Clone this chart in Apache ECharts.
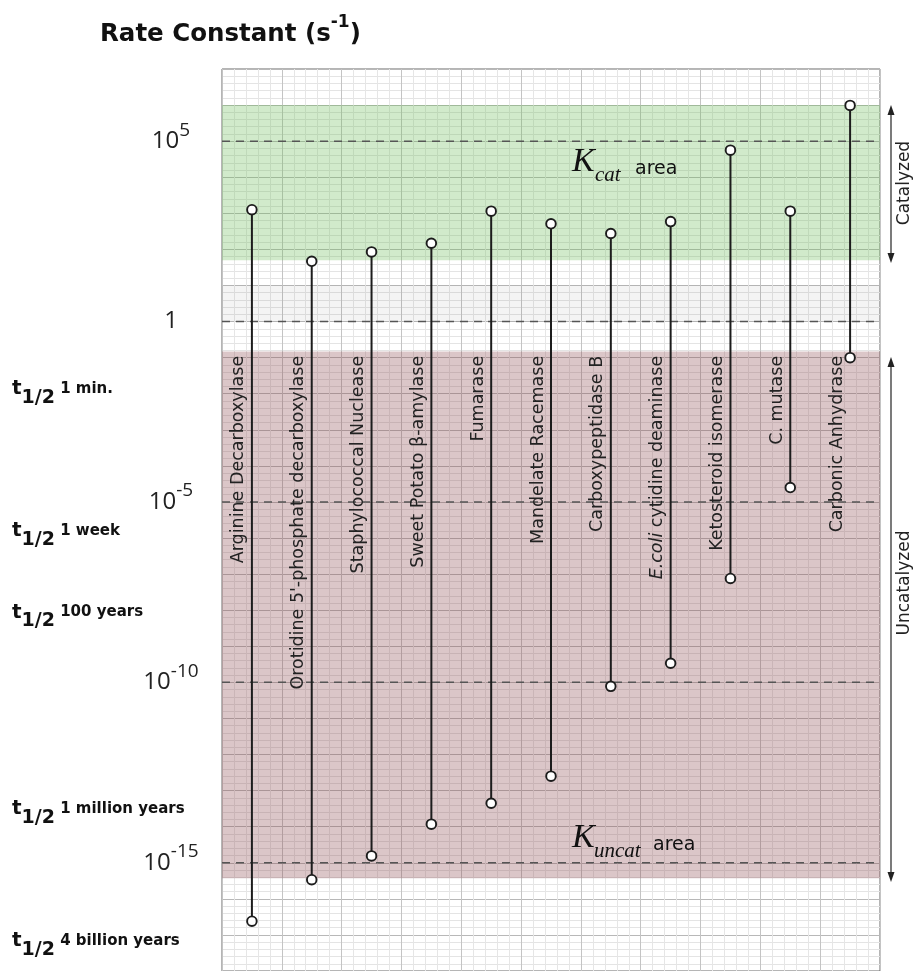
<!DOCTYPE html>
<html><head><meta charset="utf-8">
<script src="https://cdn.jsdelivr.net/npm/echarts@6/dist/echarts.min.js"></script>
<style>html,body{margin:0;padding:0;background:#fff}#c{width:913px;height:971px}</style>
</head><body><div id="c"></div>
<script>
// ---- data (log10 of rate constant, s^-1) ----
const enzymes = ['Arginine Decarboxylase', "Orotidine 5'-phosphate decarboxylase", 'Staphylococcal Nuclease',
  'Sweet Potato β-amylase', 'Fumarase', 'Mandelate Racemase', 'Carboxypeptidase B',
  'E.coli cytidine deaminase', 'Ketosteroid isomerase', 'C. mutase', 'Carbonic Anhydrase'];
const kcatLog   = [3.1, 1.67, 1.93, 2.17, 3.06, 2.71, 2.44, 2.77, 4.75, 3.06, 5.99];
const kuncatLog = [-16.62, -15.47, -14.81, -13.93, -13.35, -12.6, -10.11, -9.47, -7.12, -4.6, -1.0];
const labeledTicks = [5, 0, -5, -10, -15];
const halfLifeText = ['1 min.', '1 week', '100 years', '1 million years', '4 billion years'];
const halfLifeLog  = [-1.86, -5.80, -8.06, -13.50, -17.16];
const catalyzedBand   = [6, 1.7];
const neutralBand     = [1, 0];
const uncatalyzedBand = [-0.83, -15.43];

// ---- styling ----
const SANS = '"DejaVu Sans", Verdana, sans-serif';
const SERIF = '"Liberation Serif", "Times New Roman", serif';
const INK = '#1c1c1c';
const LABEL_TOP = -0.95;
const bandColors = ['rgba(105,188,88,0.31)', 'rgba(0,0,0,0.045)', 'rgba(138,72,78,0.31)'];

const chart = echarts.init(document.getElementById('c'), null, {renderer: 'canvas'});

function bandItem(params, api) {
  const cs = params.coordSys;
  const y1 = api.coord([0, api.value(1)])[1];
  const y2 = api.coord([0, api.value(2)])[1];
  return {type: 'rect', shape: {x: cs.x, y: y1, width: cs.width, height: y2 - y1},
    style: {fill: bandColors[params.dataIndex]}};
}
function dashItem(params, api) {
  const cs = params.coordSys;
  const y = api.coord([0, api.value(1)])[1];
  return {type: 'line', shape: {x1: cs.x, y1: y, x2: cs.x + cs.width, y2: y},
    style: {stroke: '#555', lineWidth: 1.5, lineDash: [8, 6]}};
}
function halfItem(params, api) {
  const y = api.coord([0, api.value(1)])[1];
  return {type: 'text', x: 12, y: y,
    style: {text: '{t|t}{s|1/2}{r| ' + halfLifeText[params.dataIndex] + '}',
      align: 'left', verticalAlign: 'middle', fill: '#111',
      fontFamily: SANS, fontWeight: 'bold', fontSize: 18,
      rich: {
        t: {fontFamily: SANS, fontWeight: 'bold', fontSize: 20, lineHeight: 20, fill: '#111'},
        s: {fontFamily: SANS, fontWeight: 'bold', fontSize: 19, lineHeight: 19, padding: [18, 0, 0, 0], fill: '#111'},
        r: {fontFamily: SANS, fontWeight: 'bold', fontSize: 15, lineHeight: 15, fill: '#111'}
      }}};
}
function stemItem(params, api) {
  const i = api.value(0);
  const top = api.coord([i, api.value(1)]);
  const bot = api.coord([i, api.value(2)]);
  const ly = api.coord([i, LABEL_TOP])[1];
  const name = enzymes[params.dataIndex];
  const text = name.indexOf('E.coli') === 0 ? '{i|E.coli}' + name.slice(6) : name;
  const circ = (p) => ({type: 'circle', shape: {cx: p[0], cy: p[1], r: 4.8},
    style: {fill: '#fff', stroke: INK, lineWidth: 1.9}});
  return {type: 'group', children: [
    {type: 'text', x: top[0] - 13, y: ly, rotation: Math.PI / 2,
      style: {text: text, fill: '#222', fontFamily: SANS, fontSize: 17.5,
        align: 'right', verticalAlign: 'middle',
        rich: {i: {fontStyle: 'italic', fontFamily: SANS, fontSize: 17.5, fill: '#222'}}}},
    {type: 'line', shape: {x1: top[0], y1: top[1], x2: bot[0], y2: bot[1]},
      style: {stroke: INK, lineWidth: 2}},
    circ(top), circ(bot)
  ]};
}

const txt = (x, y, text, font, size, italic) => ({type: 'text', x: x, y: y, z: 100,
  style: {text: text, fontFamily: font, fontStyle: italic ? 'italic' : 'normal', fontSize: size,
    fill: '#111', align: 'left', verticalAlign: 'middle'}});

const option = {
  animation: false,
  backgroundColor: '#fff',
  grid: {left: 222, right: 33, top: 69, bottom: -1, show: true, borderColor: '#6a6a6a', borderWidth: 1},
  xAxis: [
    {type: 'category', data: enzymes, boundaryGap: true,
      axisLine: {show: false}, axisTick: {show: false}, axisLabel: {show: false}, splitLine: {show: false}},
    {type: 'value', min: 0, max: 11, interval: 1, position: 'top',
      axisLine: {show: false}, axisTick: {show: false}, axisLabel: {show: false},
      splitLine: {show: true, lineStyle: {color: '#c4c4c4', width: 1}},
      minorTick: {show: false, splitNumber: 5},
      minorSplitLine: {show: true, lineStyle: {color: '#e6e6e6', width: 1}}}
  ],
  yAxis: {type: 'value', min: -18, max: 7, interval: 1,
    axisLine: {show: false}, axisTick: {show: false},
    axisLabel: {margin: 51, align: 'center',
      formatter: (v) => labeledTicks.indexOf(v) < 0 ? '' : (v === 0 ? '{b|1}' : '{b|10}{s|' + v + '}'),
      rich: {
        b: {fontFamily: '"Open Sans", sans-serif', fontSize: 24, lineHeight: 24, color: '#222'},
        s: {fontFamily: '"Open Sans", sans-serif', fontSize: 19, lineHeight: 19, padding: [0, 0, 22, 0], color: '#222'}
      }},
    splitLine: {show: true, lineStyle: {color: '#b8b8b8', width: 1}},
    minorTick: {show: false, splitNumber: 5},
    minorSplitLine: {show: true, lineStyle: {color: '#e4e4e4', width: 1}}
  },
  series: [
    {type: 'custom', name: 'bands', z: 1, silent: true, clip: true,
      encode: {x: 0, y: [1, 2]},
      data: [[0, catalyzedBand[0], catalyzedBand[1]], [0, neutralBand[0], neutralBand[1]],
             [0, uncatalyzedBand[0], uncatalyzedBand[1]]],
      renderItem: bandItem},
    {type: 'custom', name: 'decades', z: 2, silent: true, clip: true,
      encode: {x: 0, y: 1},
      data: labeledTicks.map(v => [0, v]),
      renderItem: dashItem},
    {type: 'custom', name: 'halfLife', z: 3, silent: true, clip: false,
      encode: {x: 0, y: 1},
      data: halfLifeLog.map(v => [0, v]),
      renderItem: halfItem},
    {type: 'custom', name: 'enzymes', z: 4, silent: true, clip: false,
      encode: {x: 0, y: [1, 2]},
      data: enzymes.map((e, i) => [i, kcatLog[i], kuncatLog[i]]),
      renderItem: stemItem}
  ],
  graphic: [
    {type: 'text', x: 100, y: 35, z: 100, style: {text: '{b|Rate Constant (s}{s|-1}{b|)}',
      align: 'left', verticalAlign: 'middle', fill: '#111',
      rich: {b: {fontFamily: SANS, fontWeight: 'bold', fontSize: 24.5, lineHeight: 25, fill: '#111'},
             s: {fontFamily: SANS, fontWeight: 'bold', fontSize: 17, lineHeight: 17, padding: [0, 0, 24, 0], fill: '#111'}}}},
    // K_cat area
    txt(572, 162, 'K', SERIF, 34, true),
    txt(595, 175, 'cat', SERIF, 21, true),
    txt(635, 169, 'area', SANS, 19, false),
    // K_uncat area
    txt(572, 838, 'K', SERIF, 34, true),
    txt(594, 851, 'uncat', SERIF, 21, true),
    txt(653, 845, 'area', SANS, 19, false),
    // right arrows
    {type: 'line', z: 100, shape: {x1: 891, y1: 112, x2: 891, y2: 256}, style: {stroke: '#222', lineWidth: 1.2}},
    {type: 'polygon', z: 100, shape: {points: [[891, 105], [887.5, 115], [894.5, 115]]}, style: {fill: '#222'}},
    {type: 'polygon', z: 100, shape: {points: [[891, 263], [887.5, 253], [894.5, 253]]}, style: {fill: '#222'}},
    {type: 'line', z: 100, shape: {x1: 891, y1: 364, x2: 891, y2: 875}, style: {stroke: '#222', lineWidth: 1.2}},
    {type: 'polygon', z: 100, shape: {points: [[891, 357], [887.5, 367], [894.5, 367]]}, style: {fill: '#222'}},
    {type: 'polygon', z: 100, shape: {points: [[891, 882], [887.5, 872], [894.5, 872]]}, style: {fill: '#222'}},
    {type: 'text', z: 100, x: 905, y: 183, rotation: Math.PI / 2, style: {text: 'Catalyzed', fontFamily: SANS, fontSize: 17, fill: '#222', align: 'center', verticalAlign: 'middle'}},
    {type: 'text', z: 100, x: 905, y: 583, rotation: Math.PI / 2, style: {text: 'Uncatalyzed', fontFamily: SANS, fontSize: 17, fill: '#222', align: 'center', verticalAlign: 'middle'}}
  ]
};
chart.setOption(option);
</script></body></html>
